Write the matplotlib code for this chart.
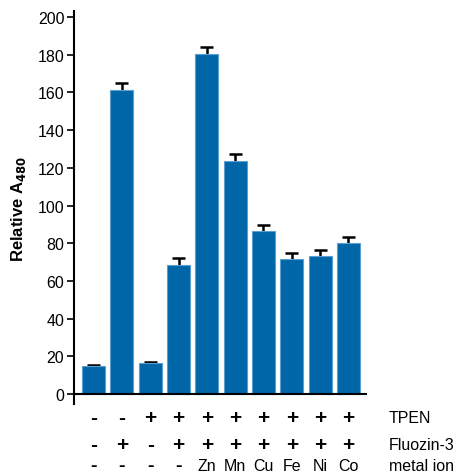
import numpy as np
import matplotlib.pyplot as plt

plt.rcParams['font.family'] = ['Liberation Sans', 'DejaVu Sans']

# mean signal and upper error (SEM) for each condition
values = [15.0, 161.4, 16.3, 68.6, 180.2, 123.4, 86.3, 71.4, 73.2, 79.9]
errors = [0.6, 3.6, 0.5, 3.4, 3.8, 4.1, 3.5, 3.4, 3.3, 3.2]

tpen = ['-', '-', '+', '+', '+', '+', '+', '+', '+', '+']
fluozin = ['-', '+', '-', '+', '+', '+', '+', '+', '+', '+']
metal = ['-', '-', '-', '-', 'Zn', 'Mn', 'Cu', 'Fe', 'Ni', 'Co']
row_names = ['TPEN', 'Fluozin-3', 'metal ion']

fig = plt.figure(figsize=(4.61, 4.77), dpi=100)
ax = fig.add_axes([0.1605, 0.151, 0.794 - 0.1605, 0.9748 - 0.151])

x = np.arange(len(values))
tops = np.array(values) + np.array(errors)

# upper-only error bars, drawn under the bars
ax.vlines(x, values, tops, color='black', linewidth=1.8, zorder=1)
ax.hlines(tops, x - 0.23, x + 0.23, color='black', linewidth=1.8, zorder=1)
ax.bar(x, values, width=0.81, color='#0066a8', edgecolor='#5b9fd0', linewidth=0.8,
       zorder=2)

ax.set_xlim(-0.69, 9.62)
ax.set_ylim(-5.3, 203.2)
ax.set_yticks(np.arange(0, 201, 20))
ax.tick_params(axis='y', direction='out', length=5, width=1.2, labelsize=11.5, pad=2)
ax.set_xticks([])

for side in ['top', 'right']:
    ax.spines[side].set_visible(False)
ax.spines['left'].set_linewidth(1.5)
ax.spines['bottom'].set_linewidth(1.5)
ax.spines['bottom'].set_position(('data', 0))

ax.set_ylabel('Relative A$_{\\mathbf{480}}$', fontsize=12, fontweight='bold', labelpad=7)

# condition table under the bars
trans = ax.get_xaxis_transform()
row_y = [0.1216, 0.067, 0.021]
sign_size = [15, 15, 14]
rows = [tpen, fluozin, metal]
for r, (labels, fy) in enumerate(zip(rows, row_y)):
    ypos = (fy - 0.151) / (0.9748 - 0.151)
    for xi, lab in zip(x, labels):
        if lab in ('+', '-'):
            ax.text(xi, ypos, lab, transform=trans, ha='center', va='center',
                    fontsize=sign_size[r], fontweight='bold', clip_on=False)
        else:
            ax.text(xi, ypos, lab, transform=trans, ha='center', va='center',
                    fontsize=11.5, clip_on=False)
    fig.text(0.844, fy, row_names[r], ha='left', va='center', fontsize=11.5)

fig.savefig('out.png', dpi=100)
